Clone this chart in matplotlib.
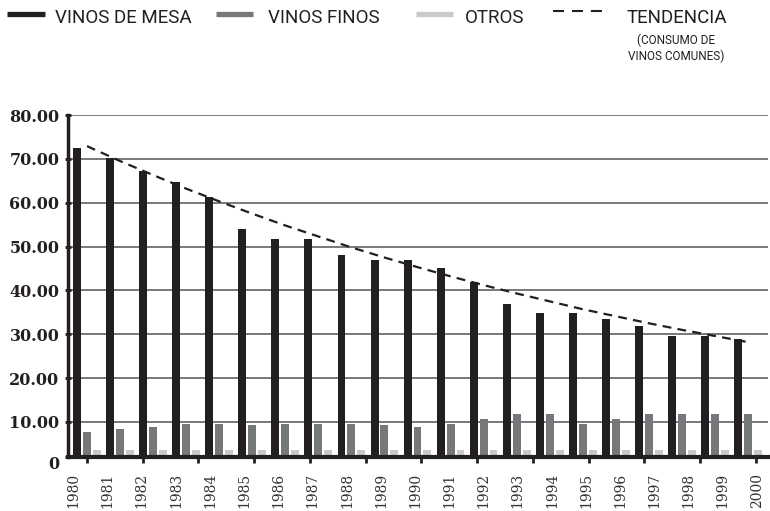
import numpy as np
import matplotlib
matplotlib.use("Agg")
import matplotlib.pyplot as plt
from matplotlib.lines import Line2D
import matplotlib.transforms as mtransforms

# ==========================================
# DATOS
# ==========================================
anios = [str(a) for a in range(1980, 2001)]
vinos_mesa = [72.4, 70.1, 67.2, 64.7, 61.2, 54.1, 51.8, 51.8, 48.1, 47.0, 47.0,
              45.2, 42.0, 36.8, 34.8, 34.8, 33.5, 31.8, 29.5, 29.5, 28.8]
vinos_finos = [7.7, 8.4, 8.9, 9.5, 9.5, 9.3, 9.5, 9.5, 9.5, 9.3, 8.9,
               9.5, 10.7, 11.8, 11.8, 9.5, 10.7, 11.8, 11.8, 11.8, 11.8]
otros = [3.6, 3.6, 3.6, 3.6, 3.6, 3.6, 3.6, 3.6, 3.6, 3.6, 3.6,
         3.6, 3.6, 3.6, 3.6, 3.6, 3.6, 3.6, 3.6, 3.6, 3.6]
tendencia = [72.9, 69.5, 66.3, 63.2, 60.3, 57.5, 54.8, 52.3, 49.8, 47.5, 45.3,
             43.2, 41.2, 39.3, 37.5, 35.7, 34.1, 32.5, 31.0, 29.6, 28.2]

y_ticks = [2, 10, 20, 30, 40, 50, 60, 70, 80]
y_labels = ['0', '10.00', '20.00', '30.00', '40.00', '50.00', '60.00', '70.00', '80.00']

NEGRO = '#231f20'
GRIS = '#77787b'
CLARO = '#c8c9cb'

# ==========================================
# FIGURA
# ==========================================
W, H = 770, 511
fig = plt.figure(figsize=(W / 100, H / 100), dpi=100)
ax = fig.add_axes([68 / W, (H - 457) / H, 700 / W, 342 / H])

x = np.arange(len(anios))
ancho = 0.24
ax.bar(x - 0.3, vinos_mesa, ancho, color=NEGRO, zorder=2)
ax.bar(x, vinos_finos, ancho, color=GRIS, zorder=2)
ax.bar(x + 0.3, otros, ancho, color=CLARO, zorder=2)
ax.plot(x, tendencia, color=NEGRO, lw=1.6, dashes=(4, 2.8), zorder=3)

ax.set_xlim(-0.575, 20.605)
ax.set_ylim(2, 80)

# grilla y ejes
ax.set_axisbelow(True)
ax.yaxis.grid(True, color='#6d6e71', lw=1.3)
for s in ['top', 'right']:
    ax.spines[s].set_visible(False)
ax.spines['left'].set_linewidth(2.5)
ax.spines['left'].set_color(NEGRO)
ax.spines['bottom'].set_linewidth(3)
ax.spines['bottom'].set_color(NEGRO)

ax.set_yticks(y_ticks)
ax.set_yticklabels(y_labels, fontfamily='DejaVu Serif', fontweight='bold',
                   fontsize=11.5, color=NEGRO)
ax.tick_params(axis='y', direction='inout', length=4.5, width=2, color=NEGRO, pad=4)
lbl0 = ax.get_yticklabels()[0]
lbl0.set_transform(lbl0.get_transform() +
                   mtransforms.ScaledTranslation(0, -5 / 100, fig.dpi_scale_trans))

# etiquetas de anios y marcas (separadas, como en el original)
ax.set_xticks(np.linspace(-0.41, 20.27, len(anios)))
ax.set_xticklabels(anios, rotation=90, fontfamily='DejaVu Serif', fontsize=10,
                   color='#333333')
ax.tick_params(axis='x', which='major', length=0, pad=11.5)
ax.set_xticks(np.linspace(0, 20.24, 13), minor=True)
ax.tick_params(axis='x', which='minor', direction='out', length=4.5, width=2,
               color=NEGRO)

# ==========================================
# LEYENDA (manual, en pixeles de la figura)
# ==========================================
def fx(px):
    return px / W

def fy(py):
    return (H - py) / H

fuente = 'Roboto'
fig.add_artist(Line2D([fx(7), fx(45)], [fy(14.5), fy(14.5)], color=NEGRO, lw=3.8,
                      solid_capstyle='butt'))
fig.add_artist(Line2D([fx(216), fx(253)], [fy(14.5), fy(14.5)], color=GRIS, lw=3.8,
                      solid_capstyle='butt'))
fig.add_artist(Line2D([fx(416), fx(453)], [fy(14.5), fy(14.5)], color=CLARO, lw=3.8,
                      solid_capstyle='butt'))
fig.add_artist(Line2D([fx(553), fx(602)], [fy(11), fy(11)], color=NEGRO, lw=1.5,
                      dashes=(5.3, 3.8), dash_capstyle='butt'))

kw = dict(fontfamily=fuente, fontsize=13.5, color=NEGRO, va='baseline', ha='left')
fig.text(fx(55), fy(23), 'VINOS DE MESA', **kw)
fig.text(fx(268), fy(23), 'VINOS FINOS', **kw)
fig.text(fx(465), fy(23), 'OTROS', **kw)
fig.text(fx(627), fy(23), 'TENDENCIA', **kw)
kw2 = dict(fontfamily=fuente, fontsize=8.5, color=NEGRO, va='baseline', ha='center')
fig.text(fx(676), fy(44), '(CONSUMO DE', **kw2)
fig.text(fx(676), fy(60), 'VINOS COMUNES)', **kw2)

fig.savefig('out.png', dpi=100)
